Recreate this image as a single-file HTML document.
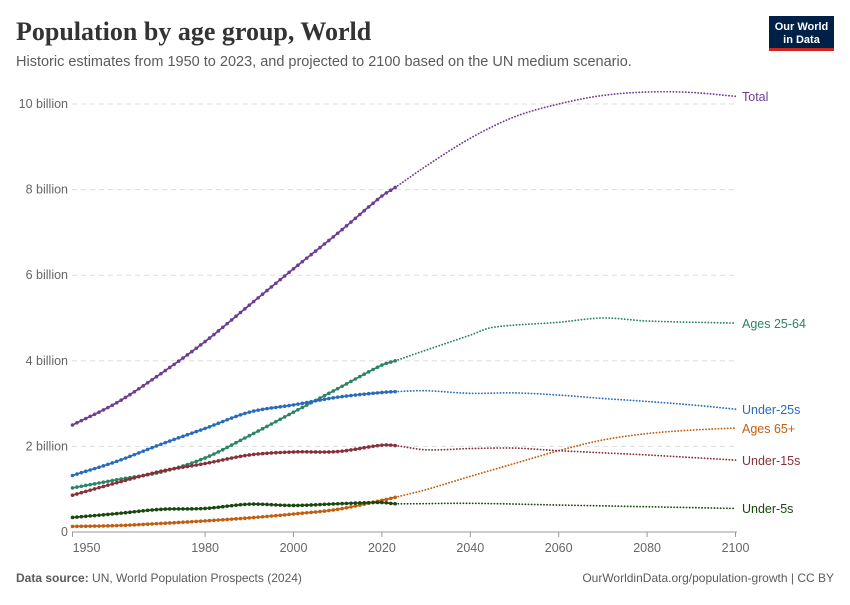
<!DOCTYPE html>
<html><head><meta charset="utf-8"><style>
body{margin:0;background:#fff;width:850px;height:600px;overflow:hidden;font-family:"Liberation Sans",sans-serif}
svg text{font-family:"Liberation Sans",sans-serif}
</style></head><body>
<svg id="s" width="850" height="600" xmlns="http://www.w3.org/2000/svg">
<text x="16" y="40" font-size="26" font-weight="bold" fill="#333" style="font-family:'Liberation Serif',serif">Population by age group, World</text>
<text x="16" y="66" font-size="14.5" fill="#5b5b5b">Historic estimates from 1950 to 2023, and projected to 2100 based on the UN medium scenario.</text>
<rect x="769" y="16" width="65" height="34" fill="#002147"/>
<rect x="769" y="48" width="65" height="3" fill="#ce261e"/>
<text x="801.5" y="30" font-size="11" font-weight="bold" fill="#fff" text-anchor="middle">Our World</text>
<text x="801.5" y="43" font-size="11" font-weight="bold" fill="#fff" text-anchor="middle">in Data</text>
<g id="grid"></g>
<g id="lines"></g>
<text x="16" y="582" font-size="12" fill="#5b5b5b"><tspan font-weight="bold">Data source:</tspan> UN, World Population Prospects (2024)</text>
<text x="834" y="582" font-size="12" fill="#5b5b5b" text-anchor="end">OurWorldinData.org/population-growth | CC BY</text>
</svg>
<script>
const NS="http://www.w3.org/2000/svg";
const X=y=>72.5+(y-1950)*4.42, Y=v=>532-v*42.8;
function el(t,a,p,txt){const e=document.createElementNS(NS,t);for(const k in a)e.setAttribute(k,a[k]);if(txt)e.textContent=txt;p.appendChild(e);return e;}
const g=document.getElementById('grid'),L=document.getElementById('lines');
for(let i=0;i<=5;i++){const y=Y(i*2);
 if(i>0)el('line',{x1:72,x2:737,y1:y,y2:y,stroke:'#ddd','stroke-dasharray':'5 4'},g);
 el('text',{x:68,y:y+4,'font-size':12.5,fill:'#666','text-anchor':'end'},g,i==0?'0':(i*2)+' billion');}
el('line',{x1:72,x2:737,y1:532,y2:532,stroke:'#999'},g);
[1950,1980,2000,2020,2040,2060,2080,2100].forEach(yr=>{el('line',{x1:X(yr),x2:X(yr),y1:532,y2:537,stroke:'#999'},g);
 el('text',{x:X(yr)+(yr==1950?14:0),y:552,'font-size':12.5,fill:'#666','text-anchor':'middle'},g,String(yr));});
const S=[
['Total','#6d3e91',97,[[1950,2.5],[1960,3.02],[1970,3.7],[1980,4.45],[1990,5.3],[2000,6.15],[2010,6.98],[2020,7.85],[2023,8.05],[2030,8.55],[2040,9.2],[2050,9.7],[2060,10.0],[2070,10.2],[2080,10.28],[2090,10.27],[2100,10.18]]],
['Ages 25-64','#2c8465',324,[[1950,1.03],[1960,1.22],[1970,1.4],[1980,1.73],[1990,2.25],[2000,2.8],[2010,3.35],[2020,3.9],[2023,4.0],[2030,4.25],[2040,4.6],[2045,4.78],[2060,4.9],[2070,5.0],[2080,4.93],[2100,4.88]]],
['Under-25s','#286bbb',410,[[1950,1.32],[1960,1.65],[1970,2.05],[1980,2.42],[1990,2.8],[2000,2.97],[2010,3.15],[2020,3.26],[2023,3.28],[2030,3.3],[2040,3.24],[2050,3.25],[2060,3.2],[2070,3.12],[2080,3.05],[2090,2.97],[2100,2.87]]],
['Ages 65+','#c15e11',429,[[1950,0.13],[1960,0.15],[1970,0.2],[1980,0.26],[1990,0.33],[2000,0.42],[2010,0.53],[2020,0.74],[2023,0.81],[2030,0.99],[2040,1.3],[2050,1.6],[2060,1.9],[2070,2.15],[2080,2.3],[2090,2.38],[2100,2.43]]],
['Under-15s','#883039',461,[[1950,0.86],[1960,1.15],[1970,1.42],[1980,1.6],[1990,1.8],[2000,1.87],[2010,1.88],[2020,2.03],[2023,2.02],[2030,1.92],[2040,1.95],[2050,1.96],[2060,1.9],[2070,1.85],[2080,1.8],[2100,1.68]]],
['Under-5s','#18470f',509,[[1950,0.34],[1960,0.43],[1970,0.53],[1980,0.55],[1990,0.65],[2000,0.62],[2010,0.66],[2020,0.69],[2023,0.66],[2040,0.67],[2060,0.63],[2100,0.55]]]];
function interp(p,yr){for(let i=0;i<p.length-1;i++){const a=p[i],b=p[i+1];if(yr>=a[0]&&yr<=b[0]){
 const p0=p[i-1]||a,p3=p[i+2]||b,t=(yr-a[0])/(b[0]-a[0]);
 const m1=(b[1]-p0[1])/(b[0]-p0[0]||1)*(b[0]-a[0]),m2=(p3[1]-a[1])/(p3[0]-a[0]||1)*(b[0]-a[0]);
 const t2=t*t,t3=t2*t;return (2*t3-3*t2+1)*a[1]+(t3-2*t2+t)*m1+(-2*t3+3*t2)*b[1]+(t3-t2)*m2;}}return p[p.length-1][1];}
S.forEach(([n,c,ly,p])=>{let h=[],f=[];
 for(let y=1950;y<=2023;y++){const v=interp(p,y);h.push(X(y)+','+Y(v));el('circle',{cx:X(y),cy:Y(v),r:1.8,fill:c},L);}
 for(let y=2023;y<=2100;y+=0.5)f.push(X(y)+','+Y(interp(p,y)));
 el('polyline',{points:h.join(' '),fill:'none',stroke:c,'stroke-width':1.7},L);
 el('polyline',{points:f.join(' '),fill:'none',stroke:c,'stroke-width':1.8,'stroke-dasharray':'0.1 3','stroke-linecap':'round'},L);
 el('text',{x:742,y:ly+4,'font-size':12.5,fill:c},L,n);});
</script>
</body></html>
